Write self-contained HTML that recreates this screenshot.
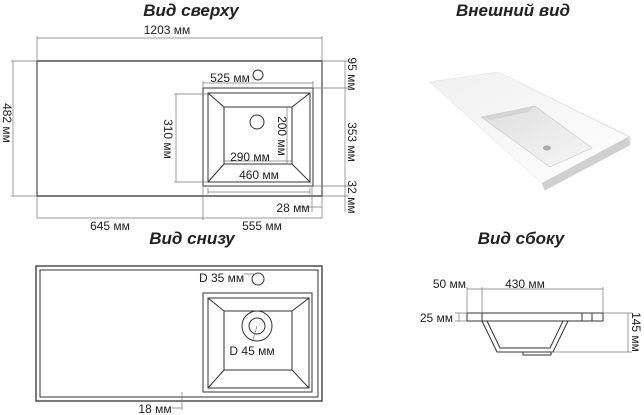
<!DOCTYPE html>
<html><head><meta charset="utf-8"><style>
html,body{margin:0;padding:0;background:#fff;}
svg{display:block;}
text{font-family:"Liberation Sans",sans-serif;fill:#222;}
.t{font-size:17px;font-weight:bold;font-style:italic;}
.d{font-size:12px;}
</style></head><body>
<svg width="644" height="415" viewBox="0 0 644 415">
<defs>
<linearGradient id="g1" x1="0" y1="0" x2="1" y2="1"><stop offset="0" stop-color="#f0f0f0"/><stop offset="1" stop-color="#ffffff"/></linearGradient>
<linearGradient id="g2" x1="0" y1="0" x2="1" y2="1"><stop offset="0" stop-color="#dedede"/><stop offset="1" stop-color="#f6f6f6"/></linearGradient>
</defs>
<text class="t" x="191" y="16" text-anchor="middle">Вид сверху</text>
<text class="t" x="513" y="16" text-anchor="middle">Внешний вид</text>
<text class="t" x="192" y="244" text-anchor="middle">Вид снизу</text>
<text class="t" x="521" y="244" text-anchor="middle">Вид сбоку</text>

<g fill="none" stroke="#333" stroke-width="1">
<rect x="37" y="61" width="285" height="135" stroke-width="1.3"/>
<rect x="203" y="88" width="110" height="98"/>
<rect x="208" y="93" width="102" height="89"/>
<rect x="224" y="107" width="68" height="57"/>
<path d="M208 93L224 107M310 93L292 107M208 182L224 164M310 182L292 164"/>
<circle cx="258" cy="75" r="5"/>
<circle cx="257" cy="122" r="7"/>
</g>
<g fill="none" stroke="#777" stroke-width="0.7">
<path d="M37 38H322M37 36V218M322 36V218M13 61V196M11 61H37M11 196H37"/>
<path d="M203 83H313M203 81V88M313 81V88"/>
<path d="M176 94V182M174 94H208M174 182H208"/>
<path d="M313 88H349M313 186H349M345 61V212M322 61H349M322 196H349"/>
<path d="M208 192H310M208 188V194M310 188V194"/>
<path d="M298 207H322M312 186V212"/>
<path d="M37 218H322M203 186V220"/>
<path d="M224 161H292M287 107V164"/>
</g>
<text class="d" x="167" y="34" text-anchor="middle">1203 мм</text>
<text class="d" transform="translate(3,123) rotate(90)" text-anchor="middle">482 мм</text>
<text class="d" x="230" y="82" text-anchor="middle">525 мм</text>
<text class="d" transform="translate(164,139) rotate(90)" text-anchor="middle">310 мм</text>
<text class="d" transform="translate(278,136) rotate(90)" text-anchor="middle">200 мм</text>
<text class="d" x="250" y="161" text-anchor="middle">290 мм</text>
<text class="d" x="259" y="179" text-anchor="middle">460 мм</text>
<text class="d" transform="translate(348,74) rotate(90)" text-anchor="middle">95 мм</text>
<text class="d" transform="translate(348,142) rotate(90)" text-anchor="middle">353 мм</text>
<text class="d" transform="translate(348,197) rotate(90)" text-anchor="middle">32 мм</text>
<text class="d" x="293" y="212" text-anchor="middle">28 мм</text>
<text class="d" x="110" y="230" text-anchor="middle">645 мм</text>
<text class="d" x="262" y="230" text-anchor="middle">555 мм</text>

<g fill="none" stroke="#333" stroke-width="1">
<rect x="36" y="266" width="286" height="135" stroke-width="1.3"/>
<rect x="40" y="270" width="278" height="127"/>
<rect x="203" y="293" width="109" height="99"/>
<rect x="208" y="298" width="101" height="90"/>
<rect x="224" y="311" width="68" height="59"/>
<path d="M208 298L224 311M309 298L292 311M208 388L224 370M309 388L292 370"/>
<circle cx="257" cy="326" r="15"/>
<circle cx="257" cy="326" r="8"/>
<circle cx="258" cy="279" r="6"/>
</g>
<g fill="none" stroke="#777" stroke-width="0.7">
<path d="M244 274H256M257 326L253 340M182 392V410M172 408H182"/>
</g>
<text class="d" x="199" y="282">D 35 мм</text>
<text class="d" x="252" y="355" text-anchor="middle">D 45 мм</text>
<text class="d" x="155" y="413" text-anchor="middle">18 мм</text>

<g fill="none" stroke="#333" stroke-width="1">
<rect x="467" y="313" width="136" height="8"/>
<path d="M482 321L497 352H553L568 321M487 321L500 348H550L563 321"/>
<rect x="523" y="352" width="28" height="3"/>
<path d="M482 313V321M582 313V321M592 313V321"/>
</g>
<g fill="none" stroke="#777" stroke-width="0.7">
<path d="M467 289H603M467 287V313M482 287V313M603 287V313"/>
<path d="M459 313V321M455 313H467M455 321H467"/>
<path d="M603 313H632M553 352H632M628 313V352"/>
</g>
<text class="d" x="466" y="288" text-anchor="end">50 мм</text>
<text class="d" x="525" y="288" text-anchor="middle">430 мм</text>
<text class="d" x="453" y="322" text-anchor="end">25 мм</text>
<text class="d" transform="translate(632,332) rotate(90)" text-anchor="middle">145 мм</text>

<polygon points="430,82 498,72 630,137 630,145 545,190 542,183" fill="#ececec" stroke="#d0d0d0" stroke-width="0.6"/>
<polygon points="430,82 498,72 628,137 542,183" fill="url(#g1)"/>
<polygon points="542,183 628,137 630,145 545,190" fill="#d0d0d0"/>
<polygon points="481,117 535,106 592,148 550,167" fill="url(#g2)" stroke="#c8c8c8" stroke-width="0.6"/>
<polygon points="481,117 535,106 528,112 490,120" fill="#d4d4d4"/>
<ellipse cx="547" cy="148" rx="4" ry="2.5" fill="#aaa"/>
</svg>
</body></html>
